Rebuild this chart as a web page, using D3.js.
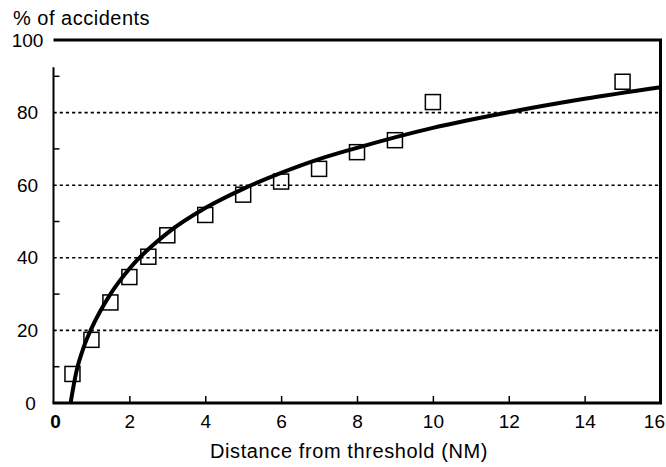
<!DOCTYPE html>
<html>
<head>
<meta charset="utf-8">
<script src="https://cdn.jsdelivr.net/npm/d3@7"></script>
<style>
  html, body { margin: 0; padding: 0; background: #fff; }
  svg { display: block; }
  text { font-family: "Liberation Sans", Arial, sans-serif; fill: #000; }
</style>
</head>
<body>
<svg id="chart" width="666" height="467"></svg>
<script>
// ---- data ----
const pointX = [0.5, 1, 1.5, 2, 2.5, 3, 4, 5, 6, 7, 8, 9, 10, 15];
const pointY = [8, 17.4, 27.7, 34.7, 40.3, 46.2, 51.8, 57.4, 61, 64.5, 69.1, 72.4, 82.9, 88.5];

const curveX = [0.45, 0.6, 0.8, 1, 1.5, 2, 3, 4, 5, 6, 7, 8, 10, 12, 14, 16];
const curveY = [0, 8.5, 15.5, 20.5, 30, 37, 46.8, 53.7, 59, 63.4, 67.2, 70.3, 75.8, 80.1, 83.8, 87];

const xTicks = [0, 2, 4, 6, 8, 10, 12, 14, 16];
const yTicks = [0, 20, 40, 60, 80, 100];
const yMinorTicks = [10, 30, 50, 70, 90];
const gridValues = [20, 40, 60, 80];

const yTitle = "% of accidents";
const xTitle = "Distance from threshold (NM)";

// ---- drawing ----
const svg = d3.select("#chart");
const x = d3.scaleLinear().domain([0, 16]).range([53.5, 660.5]);
const y = d3.scaleLinear().domain([0, 100]).range([403, 40]);

// gridlines
svg.append("g").selectAll("line").data(gridValues).join("line")
  .attr("x1", x(0)).attr("x2", x(16))
  .attr("y1", d => y(d)).attr("y2", d => y(d))
  .attr("stroke", "#000").attr("stroke-width", 1.6)
  .attr("stroke-dasharray", "3.2,3");

// frame lines
svg.append("line") // top line at 100
  .attr("x1", x(0)).attr("x2", x(16) + 1.5)
  .attr("y1", y(100)).attr("y2", y(100))
  .attr("stroke", "#000").attr("stroke-width", 3);
svg.append("line") // right border
  .attr("x1", x(16)).attr("x2", x(16))
  .attr("y1", y(100)).attr("y2", y(0))
  .attr("stroke", "#000").attr("stroke-width", 3);
svg.append("line") // left axis
  .attr("x1", x(0)).attr("x2", x(0))
  .attr("y1", y(92.5)).attr("y2", y(0))
  .attr("stroke", "#000").attr("stroke-width", 2);
svg.append("line") // bottom axis
  .attr("x1", x(0) - 1).attr("x2", x(16) + 1.5)
  .attr("y1", y(0)).attr("y2", y(0))
  .attr("stroke", "#000").attr("stroke-width", 3);

// y minor ticks (inward)
svg.append("g").selectAll("line").data(yMinorTicks).join("line")
  .attr("x1", x(0)).attr("x2", x(0) + 6)
  .attr("y1", d => y(d)).attr("y2", d => y(d))
  .attr("stroke", "#000").attr("stroke-width", 1.5);

// x axis ticks + labels
const xAxis = d3.axisBottom(x).tickValues(xTicks).tickSize(-7).tickSizeOuter(0).tickPadding(12)
  .tickFormat(d3.format("d"));
const gx = svg.append("g").attr("transform", `translate(0,${y(0)})`).call(xAxis);
gx.select(".domain").remove();
gx.selectAll(".tick line").attr("stroke", "#000").attr("stroke-width", 1.5)
  .attr("display", d => (d === 0 || d === 16) ? "none" : null);
gx.selectAll(".tick text").attr("font-size", 19).attr("fill", "#000")
  .attr("font-family", d => d === 0 ? "'Liberation Serif', serif" : null)
  .attr("font-weight", d => d === 0 ? "bold" : null)
  .attr("text-anchor", d => d === 16 ? "end" : "middle")
  .attr("x", d => d === 16 ? 4 : (d === 0 ? 1.5 : 0));

// y axis labels
const yAxis = d3.axisLeft(y).tickValues(yTicks).tickSize(0).tickPadding(0).tickFormat(d3.format("d"));
const gy = svg.append("g").attr("transform", `translate(${x(0)},0)`).call(yAxis);
gy.select(".domain").remove();
gy.selectAll(".tick text").attr("font-size", 19).attr("fill", "#000")
  .attr("text-anchor", "middle").attr("x", d => d === 0 ? -23 : -26);

// curve
const line = d3.line().x((d, i) => x(curveX[i])).y(d => y(d)).curve(d3.curveMonotoneX);
// squares
svg.append("g").selectAll("rect").data(pointY).join("rect")
  .attr("x", (d, i) => x(pointX[i]) - 7.5)
  .attr("y", d => y(d) - 7.5)
  .attr("width", 15).attr("height", 15)
  .attr("fill", "none").attr("stroke", "#000").attr("stroke-width", 1.5);

svg.append("path").datum(curveY).attr("d", line)
  .attr("fill", "none").attr("stroke", "#000").attr("stroke-width", 4)
  .attr("stroke-linecap", "butt");

// titles
svg.append("text").attr("x", 13).attr("y", 25).attr("font-size", 20)
  .attr("letter-spacing", 0.5).text(yTitle);
svg.append("text").attr("x", 349).attr("y", 458).attr("font-size", 20)
  .attr("letter-spacing", 0.6).attr("text-anchor", "middle").text(xTitle);
</script>
</body>
</html>
